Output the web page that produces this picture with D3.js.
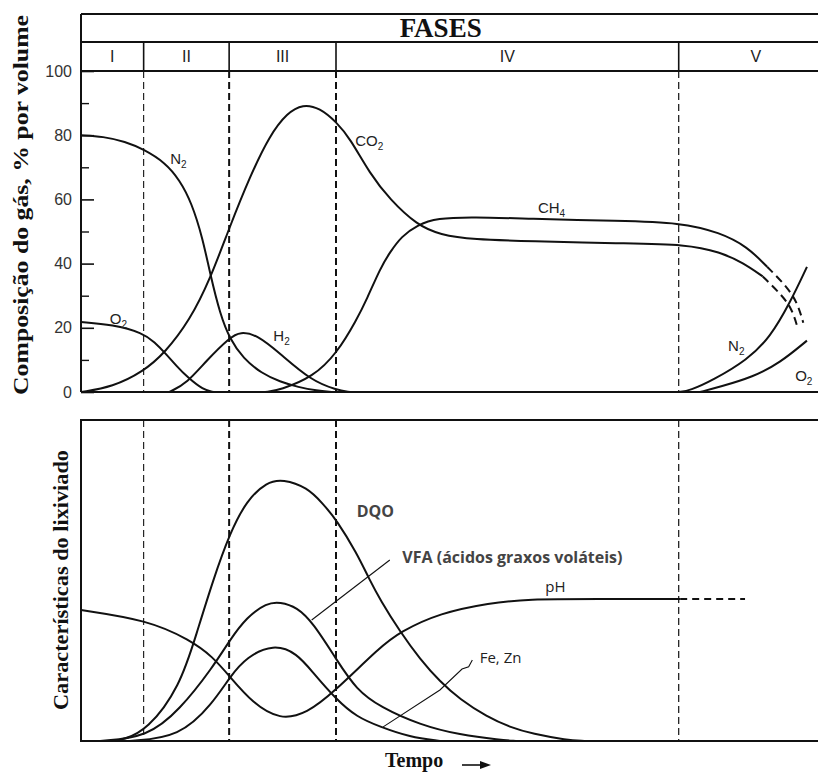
<!DOCTYPE html>
<html><head><meta charset="utf-8">
<script src="https://cdn.jsdelivr.net/npm/d3@7"></script>
<style>body{margin:0;background:#fff}</style>
</head><body><svg id="c" width="818" height="774"></svg>
<script>
// ---------- data ----------
const phaseNames = ["I", "II", "III", "IV", "V"];
const phaseBounds = [0, 8.5, 20.1, 34.6, 81.1, 102];
const phaseLineWidths = [1.1, 2, 2, 1.2];
const gasMajorTicks = [0, 20, 40, 60, 80, 100];
const gasMinorTicks = [10, 30, 50, 70, 90];

// top panel: gas composition (% by volume) vs time
const n2Early = [[0,80],[3,79.6],[6,78],[8.5,75.6],[11.4,71.5],[13.4,66],[15,59],[16.5,48],[17.5,37],[18.9,24],[20.2,16.5],[22,10.5],[24.5,5.8],[27,3.2],[29.5,1.5],[32,0.4],[34,0]];
const o2Early = [[0,21.8],[4.3,21],[8.4,18.4],[10,15.5],[11.4,12.2],[13,8],[14.4,4.7],[16.6,0.6],[18,0]];
const co2Solid = [[0,0],[4.3,1.6],[8.4,6.3],[11.4,12.2],[14.8,22.5],[17.5,35],[20.2,51.6],[22.9,67],[25.6,80],[28,87],[30.1,89.7],[32.4,88.5],[34.7,84],[36.5,79],[39.2,68],[41.9,60],[45.6,52],[48.7,49],[53.2,47.5],[60.9,47],[73.1,46.3],[82.2,46],[86.7,43.6],[89.8,40.3],[92.5,36]];
const co2Dashed = [[92.5,36],[95.3,29.7],[96.5,25.6],[97.2,20.3]];
const ch4Solid = [[25,0],[27,0.6],[31.5,4.7],[34.7,12],[37.4,22.5],[38.8,29],[40.6,38.5],[41.9,43.5],[43.5,48.5],[45.6,52],[48.3,54.2],[53.2,54.5],[60.5,54],[73.1,53.3],[81.3,52.8],[86.7,49.7],[90.4,45.3],[93.1,39]];
const ch4Dashed = [[93.1,39],[95.8,32.8],[97.2,27.8],[98,21.6]];
const h2Curve = [[12,0],[14.4,2.8],[17.1,10],[20.2,17],[21.6,18.8],[23.9,17.8],[27,12],[31.1,3.75],[34.7,0.6],[36.5,0]];
const n2Late = [[81.1,0],[82.6,0.4],[85.8,3.75],[90.4,10],[93.5,17],[96.2,27.8],[98.5,39]];
const o2Late = [[84,0],[86.7,1.6],[91.2,4.7],[94.8,9],[98.5,16]];

// bottom panel: leachate characteristics (relative) vs time
const phSolid = [[0,40.8],[9,37.7],[14.8,31.5],[17.9,26.2],[20.2,20],[23.3,11.8],[27,6.5],[30.7,8.7],[34.2,15],[40.6,29.3],[43.3,34],[48.7,39.9],[55.5,43],[60.5,44.2],[70,44.2],[81.3,44.2]];
const phDashed = [[81.3,44.2],[90.1,44.2]];
const dqoCurve = [[3.9,0],[5.7,0.3],[9,3.4],[13.4,16.8],[15.7,33.6],[17.9,50],[20.2,64.8],[22.5,75],[25.2,80.7],[27.4,81.6],[30.7,79],[32.8,74],[34.7,68.8],[37.4,58.6],[39.2,50],[40.6,44],[43.3,34],[46,25.5],[48.7,18.5],[51.4,13],[55.1,7.5],[58.2,4.3],[61.3,2.2],[65.9,0.3],[68.3,0]];
const vfaCurve = [[2.6,0],[9,1.2],[13.4,9.7],[17.9,23],[20.2,31.5],[22.5,38.6],[25.2,43],[27,43.3],[29.3,41.7],[31.5,36.8],[34.7,25.2],[37.4,15.9],[40.6,10.6],[46,5],[51.4,1.9],[56.9,0.3],[59,0]];
const feznCurve = [[6.6,0],[13.4,1.2],[17.9,11.8],[20.2,20],[22.5,26.2],[26.1,30.2],[29.3,27.4],[31.5,21.2],[34.7,12.8],[37.4,7.5],[40.6,4.4],[44.6,1.2],[48.7,0]];
const vfaLeader = [[31.3,37.7],[41.9,56.4]];
const feznLeader = [[41,4.4],[48.7,15.9],[51.7,22.4],[52.6,23.1],[53.1,25.2]];

// labels
const gasLabels = [
  {t:12.1, v:71, main:"N", sub:"2"},
  {t:3.9, v:21.2, main:"O", sub:"2"},
  {t:26.1, v:15.9, main:"H", sub:"2"},
  {t:37.2, v:76.6, main:"CO", sub:"2"},
  {t:62, v:55.8, main:"CH", sub:"4"},
  {t:87.8, v:12.8, main:"N", sub:"2"},
  {t:96.9, v:3.4, main:"O", sub:"2"}
];
const leachLabels = [
  {t:37.4, v:69.8, text:"DQO", weight:"bold"},
  {t:43.6, v:55.5, text:"VFA (ácidos graxos voláteis)", weight:"bold"},
  {t:63, v:46.4, text:"pH", weight:"normal"},
  {t:54.1, v:24.3, text:"Fe, Zn", weight:"normal"}
];

// ---------- drawing ----------
const svg = d3.select("#c");
const x = d3.scaleLinear().domain([0, 100]).range([81, 818]);
const yTop = d3.scaleLinear().domain([0, 100]).range([392, 71]);
const yBot = d3.scaleLinear().domain([0, 100]).range([741, 420]);
const xEnd = x(phaseBounds[phaseBounds.length - 1]);
const ink = "#111";

// header rows
const hTop = 14, hMid = 42, hBot = yTop(100);
[hTop, hMid, hBot].forEach(yy => svg.append("line").attr("x1", 81).attr("x2", xEnd)
  .attr("y1", yy).attr("y2", yy).attr("stroke", ink).attr("stroke-width", 2));
svg.append("line").attr("x1", 81).attr("x2", 81).attr("y1", hTop).attr("y2", yTop(0))
  .attr("stroke", ink).attr("stroke-width", 2);
svg.append("text").attr("x", x(48.8)).attr("y", 37).attr("text-anchor", "middle")
  .attr("font-family", "Liberation Serif, Times New Roman, serif").attr("font-weight", "bold")
  .attr("font-size", 27).attr("fill", "#111").text("FASES");

const inner = phaseBounds.slice(1, -1);
inner.forEach((b, i) => {
  svg.append("line").attr("x1", x(b)).attr("x2", x(b)).attr("y1", hMid).attr("y2", hBot)
    .attr("stroke", ink).attr("stroke-width", 1.6);
  [[hBot, yTop(0)], [yBot(100), yBot(0)]].forEach(([a, b2]) =>
    svg.append("line").attr("x1", x(b)).attr("x2", x(b)).attr("y1", a).attr("y2", b2)
      .attr("stroke", ink).attr("stroke-width", phaseLineWidths[i]).attr("stroke-dasharray", "7,4"));
});
phaseNames.forEach((n, i) => {
  svg.append("text").attr("x", x((phaseBounds[i] + phaseBounds[i + 1]) / 2)).attr("y", 62)
    .attr("text-anchor", "middle").attr("font-family", "Liberation Sans Narrow, Arial Narrow, Liberation Sans, sans-serif")
    .attr("font-size", 16).attr("fill", "#222").text(n);
});

// top axis
const ax1 = svg.append("g").attr("transform", "translate(81,0)")
  .call(d3.axisLeft(yTop).tickValues(gasMajorTicks).tickSize(-13).tickPadding(9));
ax1.select(".domain").remove();
ax1.selectAll("line").attr("stroke", ink).attr("stroke-width", 1.6);
ax1.selectAll("text").attr("font-family", "Liberation Sans, Arial, sans-serif").attr("font-size", 16).attr("fill", "#333");
const ax2 = svg.append("g").attr("transform", "translate(81,0)")
  .call(d3.axisLeft(yTop).tickValues(gasMinorTicks).tickSize(-8).tickFormat(""));
ax2.select(".domain").remove();
ax2.selectAll("line").attr("stroke", ink).attr("stroke-width", 1.4);
svg.append("line").attr("x1", 81).attr("x2", xEnd).attr("y1", yTop(0)).attr("y2", yTop(0))
  .attr("stroke", ink).attr("stroke-width", 2.2);

// bottom frame
svg.append("path").attr("d", `M${xEnd},${yBot(100)}H81V${yBot(0)}H${xEnd}`)
  .attr("fill", "none").attr("stroke", ink).attr("stroke-width", 2);

// curves
const curve = d3.curveBasis;
const lineTop = d3.line().x(d => x(d[0])).y(d => yTop(d[1])).curve(curve);
const lineBot = d3.line().x(d => x(d[0])).y(d => yBot(d[1])).curve(curve);
const draw = (gen, data, dash, w) => svg.append("path").attr("d", gen(data)).attr("fill", "none")
  .attr("stroke", ink).attr("stroke-width", w || 2).attr("stroke-dasharray", dash || null)
  .attr("stroke-linecap", "butt");
[n2Early, o2Early, co2Solid, ch4Solid, h2Curve, n2Late, o2Late].forEach(d => draw(lineTop, d));
[co2Dashed, ch4Dashed].forEach(d => draw(lineTop, d, "8,5"));
[phSolid, dqoCurve, vfaCurve, feznCurve].forEach(d => draw(lineBot, d));
draw(lineBot, phDashed, "7,5");
const leader = d3.line().x(d => x(d[0])).y(d => yBot(d[1]));
[vfaLeader, feznLeader].forEach(d => svg.append("path").attr("d", leader(d)).attr("fill", "none")
  .attr("stroke", ink).attr("stroke-width", 1.1));

// gas labels
gasLabels.forEach(l => {
  const t = svg.append("text").attr("x", x(l.t)).attr("y", yTop(l.v))
    .attr("font-family", "Liberation Sans, Arial, sans-serif").attr("font-size", 15).attr("fill", "#222");
  t.append("tspan").text(l.main);
  t.append("tspan").attr("font-size", 10).attr("dy", 4).text(l.sub);
});
leachLabels.forEach(l => {
  const b = l.weight === "bold";
  svg.append("text").attr("x", x(l.t)).attr("y", yBot(l.v))
    .attr("font-family", "Open Sans, Noto Sans, sans-serif").attr("font-size", b ? 16 : 15)
    .attr("font-weight", b ? 700 : 400)
    .attr("fill", b ? "#444" : "#222").text(l.text);
});

// axis titles
svg.append("text").attr("transform", `translate(28,${(yTop(0) + 14) / 2 + 2}) rotate(-90)`)
  .attr("text-anchor", "middle").attr("font-family", "Liberation Serif, Times New Roman, serif")
  .attr("font-weight", "bold").attr("font-size", 21).attr("fill", "#111")
  .attr("textLength", 380).attr("lengthAdjust", "spacingAndGlyphs")
  .text("Composição do gás, % por volume");
svg.append("text").attr("transform", `translate(68,580) rotate(-90)`)
  .attr("text-anchor", "middle").attr("font-family", "Liberation Serif, Times New Roman, serif")
  .attr("font-weight", "bold").attr("font-size", 21).attr("fill", "#111")
  .attr("textLength", 260).attr("lengthAdjust", "spacingAndGlyphs")
  .text("Características do lixiviado");
svg.append("text").attr("x", 385).attr("y", 767)
  .attr("font-family", "Liberation Serif, Times New Roman, serif").attr("font-weight", "bold")
  .attr("font-size", 20).attr("fill", "#111").text("Tempo");
svg.append("line").attr("x1", 462).attr("x2", 482).attr("y1", 765).attr("y2", 765)
  .attr("stroke", ink).attr("stroke-width", 1.6);
svg.append("path").attr("d", "M480,761L491,765L480,769Z").attr("fill", ink);
</script></body></html>
